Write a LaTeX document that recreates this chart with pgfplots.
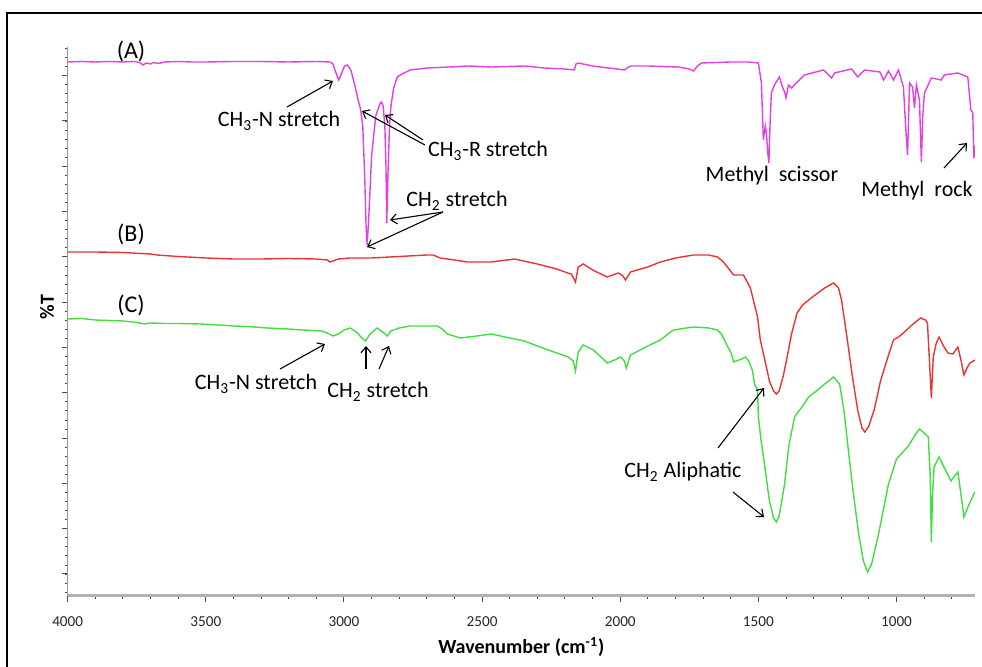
\documentclass[border=0pt]{standalone}
\usepackage{fontspec}
\setmainfont{Carlito}
\usepackage{pgfplots}
\pgfplotsset{compat=1.18}
\usetikzlibrary{arrows.meta}

\definecolor{magA}{RGB}{226,64,226}
\definecolor{redB}{RGB}{232,52,52}
\definecolor{grnC}{RGB}{64,222,64}

\tikzset{ann/.style={-{Straight Barb[length=3pt,width=5pt]}, line width=0.55pt, black},
         lab/.style={font=\fontsize{11}{13}\selectfont, inner sep=0pt, anchor=base}}

\begin{document}
\begin{tikzpicture}
\useasboundingbox (0,0) rectangle (491pt,-333.5pt);
% frame, cut off at right and bottom
\draw[line width=0.9pt] (3.5pt,-340pt) -- (3.5pt,-6.5pt) -- (495pt,-6.5pt);
\begin{axis}[
    at={(33.85pt,-298pt)}, anchor=south west,
    scale only axis, width=453.65pt, height=274.5pt,
    xmin=716, xmax=4000, x dir=reverse,
    ymin=0, ymax=549,
    axis x line*=bottom, axis y line*=left,
    x axis line style={-, draw=black!30, line width=1.5pt},
    y axis line style={-, draw=black!40, line width=0.4pt},
    xtick={1000,1500,...,4000},
    minor xtick={800,900,...,4000},
    ytick={22,67.3,112.6,157.9,203.2,248.5,293.8,339.1,384.4,429.7,475,520.3},
    minor ytick={3.8,12.86,...,549},
    yticklabels={},
    tick align=outside,
    major tick length=3pt, minor tick length=1.5pt,
    every tick/.style={draw=black!70, line width=0.5pt},
    /pgf/number format/assume math mode=true,
    /pgf/number format/1000 sep={},
    xticklabel style={font=\fontsize{7.6}{9}\selectfont, text=black!85, yshift=-4pt},
    xlabel={\textbf{Wavenumber (cm\textsuperscript{-1})}},
    xlabel style={font=\fontsize{10}{12}\selectfont, at={(axis description cs:0.5,0)}, anchor=base, yshift=-29pt},
    ylabel={\textbf{\%T}},
    ylabel style={font=\fontsize{10}{12}\selectfont, at={(axis description cs:-0.0228,0.526)}, anchor=center},
    every axis plot/.append style={line width=0.7pt},
]
% (A)
\addplot[magA] coordinates {
(4000,534) (3950,534.5) (3900,534) (3850,534.5) (3800,534) (3760,534.5) (3740,533.5) (3727,531) (3715,533) (3700,532)
(3690,533.5) (3670,532.5) (3650,534) (3600,534.5) (3550,534) (3500,534) (3400,534.5) (3300,534.5) (3200,534) (3100,534.5)
(3050,534) (3040,532) (3030,524) (3019,516) (3010,522) (2998,530) (2988,531) (2975,526) (2960,510) (2948,495)
(2940,487) (2932,470) (2925,420) (2920,370) (2916,351) (2910,380) (2900,440) (2885,480) (2870,492) (2865,494)
(2858,490) (2852,470) (2848,430) (2845,373) (2841,420) (2835,470) (2830,490) (2820,508) (2807,519) (2790,522)
(2760,526) (2700,528) (2617,529) (2550,530) (2467,529) (2347,530) (2275,528) (2200,527) (2166,526) (2160,532)
(2152,533) (2100,530) (2043,528) (2010,527) (1985,526) (1970,529) (1960,530) (1900,530) (1790,529) (1750,527)
(1735,525) (1720,530) (1706,533) (1600,534) (1536,534) (1500,533) (1489,513) (1482,456) (1475,470) (1471,463)
(1466,443) (1462,433) (1458,470) (1453,503) (1442,511) (1424,519) (1413,509) (1405,504) (1400,498) (1391,511)
(1380,508) (1334,521) (1264,526) (1235,518) (1224,523) (1163,527) (1140,519) (1116,526) (1060,524) (1047,516)
(1029,525) (1011,516) (993,526) (975,509) (965,460) (960,441) (956,480) (953,513) (942,509) (935,488)
(928,511) (917,496) (913,460) (910,434) (905,480) (899,503) (874,518) (838,516) (827,521) (778,523)
(742,519) (731,486) (724,483) (720,438) (716,450)
};
% (B)
\addplot[redB] coordinates {
(4000,344) (3900,344) (3800,343.5) (3700,342) (3677,341) (3600,339.5) (3500,338) (3401,337) (3300,337) (3200,337.5)
(3100,337) (3060,336) (3051,334) (3040,335) (3020,337) (2977,338) (2900,338) (2800,339.5) (2700,341) (2677,341)
(2652,338) (2600,336) (2554,334) (2467,334) (2383,337) (2300,332) (2230,327) (2190,323) (2177,322) (2162,314)
(2152,329) (2134,332) (2100,326) (2047,319) (2007,323) (1990,320) (1981,316) (1963,324) (1900,329) (1855,334)
(1800,338) (1735,341) (1680,341) (1648,339) (1630,335) (1612,329) (1590,321) (1554,321) (1529,308) (1503,279)
(1493,256) (1480,240) (1460,215) (1445,205) (1435,202) (1425,205) (1410,220) (1395,240) (1380,262) (1360,283)
(1340,291) (1318,296) (1290,302) (1260,308) (1228,313) (1210,308) (1199,296) (1181,262) (1160,220) (1140,185)
(1125,168) (1115,164) (1100,170) (1080,187) (1058,215) (1030,240) (1011,256) (993,259) (975,263) (940,272)
(913,278) (895,276) (888,273) (881,236) (874,198) (867,239) (857,252) (846,259) (830,250) (814,243)
(796,242) (778,249) (766,235) (756,221) (745,228) (734,233) (716,236)
};
% (C)
\addplot[grnC] coordinates {
(4000,277) (3950,277.5) (3900,276) (3850,275.5) (3800,275) (3763,274) (3740,273) (3724,272) (3700,273) (3650,272.5)
(3600,272.5) (3521,272) (3450,271) (3400,270) (3350,269.5) (3278,268) (3200,267) (3150,266) (3080,265) (3060,263)
(3039,260) (3020,262) (3000,266) (2977,268) (2955,264) (2935,258) (2923,255) (2905,262) (2880,268) (2860,264)
(2843,260) (2830,265) (2800,268) (2760,270) (2700,270) (2662,270) (2640,266) (2626,262) (2579,258) (2520,260)
(2467,262) (2400,258) (2347,255) (2300,250) (2250,245) (2188,239) (2170,235) (2162,225) (2152,244) (2134,251)
(2097,246) (2047,233) (2020,236) (2000,239) (1985,235) (1978,228) (1963,241) (1900,250) (1855,256) (1808,266)
(1760,268) (1735,269) (1680,268) (1648,266) (1634,262) (1612,250) (1597,242) (1590,234) (1560,237) (1547,239)
(1535,235) (1522,226) (1514,212) (1503,206) (1500,179) (1490,155) (1478,132) (1460,95) (1445,78) (1435,74)
(1425,80) (1405,112) (1390,150) (1369,179) (1340,190) (1318,199) (1290,205) (1260,212) (1228,219) (1206,212)
(1190,185) (1174,145) (1155,100) (1137,62) (1120,35) (1105,24) (1090,32) (1065,62) (1045,90) (1029,112)
(1000,137) (980,143) (957,150) (935,160) (917,167) (900,163) (885,159) (878,120) (874,54) (870,100)
(864,129) (846,139) (830,130) (803,115) (790,120) (778,124) (766,100) (756,79) (740,90) (720,102) (716,104)
};
\end{axis}
% annotations, in pixel units of the picture (origin top left)
\begin{scope}[x=0.5pt, y=-0.5pt]
\node[lab, font=\fontsize{12}{14}\selectfont] at (131,59) {(A)};
\node[lab, font=\fontsize{12}{14}\selectfont] at (131,242) {(B)};
\node[lab, font=\fontsize{12}{14}\selectfont] at (131,313) {(C)};
\node[lab] at (279,127) {CH\textsubscript{3}-N stretch};
\draw[ann] (287,107) -- (333,81);
\node[lab] at (488,157) {CH\textsubscript{3}-R stretch};
\draw[ann] (425,145) -- (362,111);
\draw[ann] (423,140) -- (385,115);
\node[lab] at (457,207) {CH\textsubscript{2} stretch};
\draw[ann] (443,212) -- (390,220);
\draw[ann] (443,212) -- (367,247);
\node[lab] at (772,182) {Methyl~~scissor};
\node[lab] at (917,197) {Methyl~~rock};
\draw[ann] (944,168) -- (967,143);
\node[lab] at (256,390) {CH\textsubscript{3}-N stretch};
\draw[ann] (280,369) -- (325,344);
\node[lab] at (378,398) {CH\textsubscript{2} stretch};
\draw[ann] (366,369) -- (366,346);
\draw[ann] (379,369) -- (389,346);
\node[lab] at (683,478) {CH\textsubscript{2} Aliphatic};
\draw[ann] (718,448) -- (764,388);
\draw[ann] (733,492) -- (764,517);
\end{scope}
\end{tikzpicture}
\end{document}
